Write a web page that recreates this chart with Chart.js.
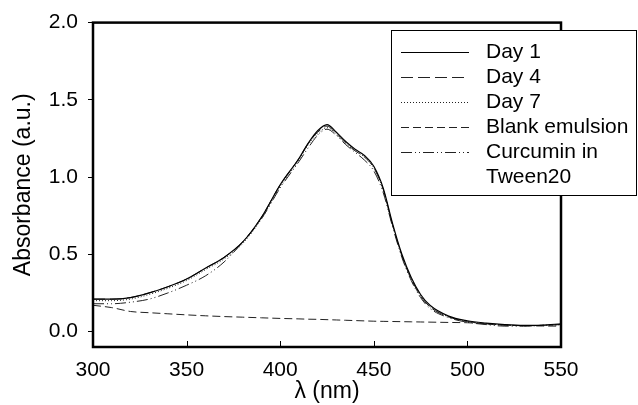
<!DOCTYPE html>
<html>
<head>
<meta charset="utf-8">
<script src="https://cdn.jsdelivr.net/npm/chart.js@4/dist/chart.umd.min.js"></script>
<style>
  html, body { margin: 0; padding: 0; background: #fff; }
  #wrap { width: 638px; height: 405px; }
</style>
</head>
<body>
<div id="wrap"><canvas id="myChart" width="638" height="405"></canvas></div>
<script>
// wavelengths (nm) shared by every series
const wavelengths = [300, 310, 320, 330, 340, 350, 360, 370, 380, 390, 400, 410, 415, 420, 425, 430, 435, 440, 445, 450, 455, 460, 465, 470, 475, 480, 490, 500, 510, 520, 530, 540, 550];

const day1 = [0.21, 0.21, 0.22, 0.25, 0.29, 0.34, 0.41, 0.48, 0.58, 0.74, 0.95, 1.12, 1.22, 1.30, 1.34, 1.29, 1.23, 1.18, 1.14, 1.07, 0.93, 0.70, 0.50, 0.35, 0.24, 0.17, 0.10, 0.07, 0.055, 0.045, 0.040, 0.042, 0.050];
const day4 = [0.21, 0.21, 0.22, 0.25, 0.29, 0.34, 0.41, 0.48, 0.58, 0.74, 0.95, 1.12, 1.22, 1.29, 1.33, 1.28, 1.22, 1.17, 1.13, 1.06, 0.92, 0.69, 0.49, 0.34, 0.23, 0.16, 0.095, 0.065, 0.050, 0.042, 0.038, 0.040, 0.045];
const day7 = [0.20, 0.20, 0.21, 0.24, 0.28, 0.33, 0.40, 0.47, 0.57, 0.73, 0.94, 1.11, 1.21, 1.28, 1.32, 1.28, 1.22, 1.17, 1.13, 1.06, 0.92, 0.69, 0.49, 0.34, 0.23, 0.16, 0.095, 0.065, 0.050, 0.042, 0.038, 0.040, 0.045];
const blank = [0.17, 0.155, 0.13, 0.122, 0.115, 0.108, 0.102, 0.097, 0.093, 0.089, 0.085, 0.082, 0.080, 0.079, 0.077, 0.075, 0.073, 0.071, 0.069, 0.067, 0.066, 0.065, 0.064, 0.063, 0.062, 0.061, 0.059, 0.057, 0.050, 0.042, 0.038, 0.036, 0.035];
const curcumin = [0.18, 0.18, 0.19, 0.21, 0.25, 0.30, 0.36, 0.45, 0.58, 0.73, 0.93, 1.10, 1.19, 1.27, 1.31, 1.27, 1.21, 1.16, 1.11, 1.04, 0.90, 0.68, 0.48, 0.33, 0.22, 0.15, 0.09, 0.06, 0.045, 0.035, 0.035, 0.040, 0.045];

const seriesLabels = ["Day 1", "Day 4", "Day 7", "Blank emulsion", ["Curcumin in", "Tween20"]];
const xTicks = [300, 350, 400, 450, 500, 550];
const yTicks = [0.0, 0.5, 1.0, 1.5, 2.0];

const FONT = "'Liberation Sans', Arial, Helvetica, sans-serif";

function pts(vals) {
    return wavelengths.map((x, i) => ({x: x, y: vals[i]}));
}

// frame round the plot + inward x ticks + the boxed legend
const framePlugin = {
    id: "frame",
    afterDatasetsDraw(chart) {
        const ctx = chart.ctx;
        const a = chart.chartArea;
        ctx.save();
        ctx.strokeStyle = "#000";
        ctx.lineWidth = 1;
        xTicks.forEach(v => {
            const px = Math.round(chart.scales.x.getPixelForValue(v)) + 0.5;
            ctx.beginPath();
            ctx.moveTo(px, a.bottom);
            ctx.lineTo(px, a.bottom - 6);
            ctx.stroke();
        });
        ctx.lineWidth = 2.5;
        ctx.strokeRect(a.left, a.top, a.right - a.left, a.bottom - a.top);
        ctx.restore();
    },
    afterDraw(chart) {
        const ctx = chart.ctx;
        const box = {x: 391.5, y: 30.5, w: 245, h: 165};
        ctx.save();
        ctx.fillStyle = "#fff";
        ctx.fillRect(box.x, box.y, box.w, box.h);
        ctx.strokeStyle = "#000";
        ctx.lineWidth = 1;
        ctx.strokeRect(box.x, box.y, box.w, box.h);
        ctx.font = "21px " + FONT;
        ctx.textBaseline = "middle";
        ctx.fillStyle = "#000";
        let row = 0;
        chart.data.datasets.forEach(ds => {
            const y = 52 + row * 25;
            ctx.beginPath();
            ctx.setLineDash(ds.borderDash || []);
            ctx.strokeStyle = ds.borderColor;
            ctx.lineWidth = 1;
            ctx.moveTo(401, y + 0.5);
            ctx.lineTo(469, y + 0.5);
            ctx.stroke();
            ctx.setLineDash([]);
            const lines = Array.isArray(ds.label) ? ds.label : [ds.label];
            lines.forEach(t => {
                ctx.fillText(t, 486, 52 + row * 25);
                row++;
            });
        });
        ctx.restore();
    }
};

const lineStyle = {
    pointRadius: 0,
    borderWidth: 1,
    fill: false,
    cubicInterpolationMode: "monotone"
};

new Chart(document.getElementById("myChart"), {
    type: "line",
    data: {
        datasets: [
            {...lineStyle, label: seriesLabels[0], data: pts(day1), borderColor: "#000", borderWidth: 1.2},
            {...lineStyle, label: seriesLabels[1], data: pts(day4), borderColor: "#222", borderDash: [12, 5]},
            {...lineStyle, label: seriesLabels[2], data: pts(day7), borderColor: "#222", borderDash: [1, 2]},
            {...lineStyle, label: seriesLabels[3], data: pts(blank), borderColor: "#222", borderDash: [8, 4]},
            {...lineStyle, label: seriesLabels[4], data: pts(curcumin), borderColor: "#222", borderDash: [11, 3, 1, 3, 1, 3]}
        ]
    },
    options: {
        responsive: false,
        animation: false,
        devicePixelRatio: 1,
        layout: {padding: {top: 20, right: 77, left: 0, bottom: 0}},
        plugins: {legend: {display: false}, tooltip: {enabled: false}},
        scales: {
            x: {
                type: "linear",
                min: 300,
                max: 550,
                afterBuildTicks: s => { s.ticks = xTicks.map(v => ({value: v})); },
                afterFit: s => { s.height = 58; },
                grid: {display: false, drawTicks: false},
                border: {display: false},
                ticks: {color: "#000", font: {family: FONT, size: 21}, padding: 11, maxRotation: 0},
                title: {display: true, text: "λ (nm)", color: "#000", font: {family: FONT, size: 23}, padding: {top: 0, bottom: 0}}
            },
            y: {
                min: -0.1,
                max: 2.0,
                afterBuildTicks: s => { s.ticks = yTicks.map(v => ({value: v})); },
                afterFit: s => { s.width = 93; },
                grid: {display: true, drawOnChartArea: false, drawTicks: true, tickLength: 5, color: "#000", lineWidth: 1},
                border: {display: false},
                ticks: {color: "#000", font: {family: FONT, size: 21}, padding: 10, callback: v => v.toFixed(1)},
                title: {display: true, text: "Absorbance (a.u.)", color: "#000", font: {family: FONT, size: 23}, padding: {top: 10, bottom: 0}}
            }
        }
    },
    plugins: [framePlugin]
});
</script>
</body>
</html>
